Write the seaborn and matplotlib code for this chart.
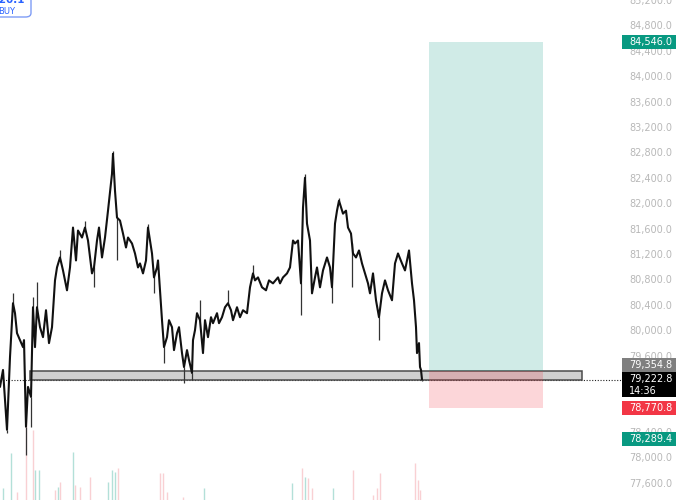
import numpy as np
import pandas as pd
import matplotlib
matplotlib.use("Agg")
import matplotlib.pyplot as plt
import matplotlib.patches as mpatches
import matplotlib.transforms as mtransforms
import seaborn as sns

##################
# Data
##################

bars = [0, 3, 7, 10, 13, 15, 17, 20, 23, 24, 26, 28, 31, 33, 35, 37, 40, 43, 46, 49,
        52, 55, 57, 60, 63, 67, 70, 73, 76, 78, 82, 85, 88, 92, 94, 97, 99, 102, 105, 108,
        112, 113, 115, 117, 120, 123, 126, 128, 132, 135, 138,
        140, 143, 146, 148, 152, 154, 157, 158, 160, 162, 164, 167, 169, 172, 174, 177, 179,
        182, 184, 187, 189, 192, 193, 195, 197, 200, 203, 205, 208, 211, 213, 217, 219, 222,
        225, 228, 231, 233, 237, 240, 243, 247, 250, 253, 255, 258, 262, 266, 269, 273, 278,
        280, 283, 287, 290, 293, 295, 298, 301, 303, 305, 307, 310, 312, 315, 317, 320, 323,
        327, 330, 332, 335, 337, 339, 343, 346, 348, 351, 353, 356, 359, 362, 365, 368, 370,
        373, 376, 379, 382, 385, 388, 392, 395, 398, 402, 405, 409, 412, 414, 416, 417, 419,
        420, 421, 422]

close = [79106, 79373, 78431, 79577, 80424, 80267, 79953, 79843, 79733, 79843, 78479, 79106,
         78949, 80361, 79733, 80361, 80047, 79890, 80314, 79796,
         80047, 80784, 80988, 81145, 80941, 80628, 80988, 81616, 81098, 81569, 81459, 81616,
         81412, 80894, 80988, 81412, 81616, 81145, 81459, 81882,
         82463, 82777, 82196, 81773, 81726, 81522, 81302, 81459, 81365, 81208, 80988,
         81051, 80894, 81098, 81616, 81208, 80831, 80988, 81098, 80628, 80157, 79733, 79890,
         80157, 80047, 79686, 79953, 80047,
         79639, 79420, 79686, 79530, 79326, 79843, 80000, 80267, 80157, 79639, 80157, 79890,
         80204, 80110, 80267, 80110, 80204,
         80361, 80424, 80314, 80157, 80361, 80204, 80314, 80267, 80675, 80894, 80784, 80831,
         80675, 80628, 80784, 80737, 80831,
         80737, 80831, 80894, 80988, 81412, 81365, 81412, 80737, 81929, 82400, 81678, 81412,
         80580, 80831, 80988, 80675, 80941,
         81145, 80988, 80675, 81678, 81882, 82039, 81835, 81882, 81616, 81522, 81208, 81145,
         81255, 81051, 80894, 80737, 80580,
         80894, 80471, 80204, 80580, 80784, 80628, 80471, 81051, 81208, 81051, 80941, 81255,
         80737, 80471, 80047, 79639, 79796,
         79420, 79373, 79222.8]

# single long wicks
wick_bar = [7, 13, 26, 31, 33, 37, 60, 85, 94, 113, 117, 148, 154, 164, 184, 192, 200,
            228, 253, 301, 305, 332, 339, 352, 379, 422]
wick_end = [78384, 80580, 78030, 78479, 80517, 80753, 81255, 81726, 80675, 82824, 81098,
            81678, 80580, 79483, 79169, 79216, 80471, 80628, 81020, 80235, 82463, 80424,
            82086, 80675, 79843, 79200]

# volume (relative units) and direction
vol_bar = [3, 11, 17, 26, 33, 35, 39, 55, 58, 60, 73, 75, 80, 90, 108, 112, 115, 118,
           160, 163, 167, 183, 204, 292, 302, 305, 308, 312, 333, 353, 373, 377, 380,
           415, 418, 420]
vol_size = [12, 47, 8, 80, 70, 30, 30, 10, 13, 18, 48, 15, 13, 23, 18, 30, 28, 32,
            27, 27, 8, 3, 12, 17, 32, 23, 22, 12, 12, 30, 5, 12, 27,
            37, 20, 10]
vol_up = [1, 1, 0, 0, 0, 1, 1, 0, 1, 0, 1, 0, 0, 0, 1, 1, 1, 0,
          0, 0, 0, 0, 1, 1, 0, 1, 0, 0, 1, 0, 0, 0, 0,
          0, 0, 0]

price_ticks = np.arange(77600, 85201, 400)
hidden_ticks = [79200, 78800]   # fully covered by the price badges

take_profit = 84546.0
entry = 79354.8
stop_loss = 78770.8
last_price = 79222.8
low_mark = 78289.4
zone_low = 79211
zone_bars = (30, 582)
pos_bars = (429, 543)

##################
# Plot
##################

sns.set_theme(style="white")
plt.rcParams['font.family'] = ['DejaVu Sans']

df = pd.DataFrame({'bar': bars, 'close': close})

fig = plt.figure(figsize=(6.8, 5.0), dpi=100)
ax_w = 622 / 680
ax = fig.add_axes([0, 0, ax_w, 1])
ax_v = ax.twinx()

ax.set_xlim(0, 622)
ax.set_ylim(77325, 85177)
ax_v.set_ylim(0, 500)
ax_v.set_axis_off()

# volume
vol_colors = ['#b3e0d8' if u else '#f9d0d3' for u in vol_up]
ax_v.vlines(vol_bar, 0, vol_size, colors=vol_colors, linewidth=1.0)
ax.set_zorder(ax_v.get_zorder() + 1)
ax.patch.set_visible(False)

# support zone
ax.add_patch(mpatches.Rectangle((zone_bars[0], zone_low), zone_bars[1] - zone_bars[0],
                                entry - zone_low, facecolor='#cfcfcf', edgecolor='#4a4a4a',
                                linewidth=1.1, zorder=2))

# long position box
ax.add_patch(mpatches.Rectangle((pos_bars[0], entry), pos_bars[1] - pos_bars[0],
                                take_profit - entry, facecolor='#089981', alpha=0.19,
                                linewidth=0, zorder=3))
ax.add_patch(mpatches.Rectangle((pos_bars[0], stop_loss), pos_bars[1] - pos_bars[0],
                                entry - stop_loss, facecolor='#f23645', alpha=0.2,
                                linewidth=0, zorder=3))

# price
wick_base = np.interp(wick_bar, bars, close)
ax.vlines(wick_bar, wick_base, wick_end, colors='#333333', linewidth=0.9, zorder=4)
sns.lineplot(data=df, x='bar', y='close', ax=ax, color='#111111', linewidth=1.5,
             zorder=5, estimator=None, sort=False)

# last price line
ax.axhline(last_price, color='#222222', linewidth=0.8, linestyle=(0, (1, 1.5)), zorder=1)

ax.set_xlabel('')
ax.set_ylabel('')
ax.set_xticks([])
ax.yaxis.tick_right()
ax.set_yticks(price_ticks)
ax.set_yticklabels(['' if t in hidden_ticks else f'{t:,.1f}' for t in price_ticks])
ax.tick_params(axis='y', length=0, pad=5, labelsize=7, labelcolor='#b8b8b8')
for s in ax.spines.values():
    s.set_visible(False)

# price badges
bt = mtransforms.blended_transform_factory(fig.transFigure, ax.transData)
px = (85177 - 77325) / 500


def badge(center, height_px, color, lines):
    h = height_px * px
    fig.add_artist(mpatches.Rectangle((622 / 680, center - h / 2), 54 / 680, h,
                                      transform=bt, facecolor=color, edgecolor='none',
                                      zorder=10))
    fig.add_artist(plt.Text(629 / 680, center, '\n'.join(lines), transform=bt,
                            color='white', fontsize=7, ha='left', va='center',
                            linespacing=1.25, zorder=11))


badge(take_profit, 14, '#089981', ['84,546.0'])
badge(79446, 14, '#7f7f7f', ['79,354.8'])
badge(79140, 25, '#000000', ['79,222.8', '14:36'])
badge(stop_loss, 14, '#f23645', ['78,770.8'])
badge(78285, 14, '#089981', ['78,289.4'])

# clipped order button, top left
fig.add_artist(mpatches.FancyBboxPatch((-20 / 680, 483 / 500), 51 / 680, 30 / 500,
                                       boxstyle='round,pad=0,rounding_size=0.008',
                                       transform=fig.transFigure, facecolor='white',
                                       edgecolor='#7f9cf5', linewidth=1.0, zorder=12))
fig.text(25 / 680, 495 / 500, '83,220.1', color='#2962ff', fontsize=7.5,
         fontweight='bold', ha='right', va='bottom', zorder=13)
fig.text(15 / 680, 489 / 500, 'BUY', color='#2962ff', fontsize=6, ha='right',
         va='center', zorder=13)

fig.savefig('out.png', dpi=100, facecolor='white')
